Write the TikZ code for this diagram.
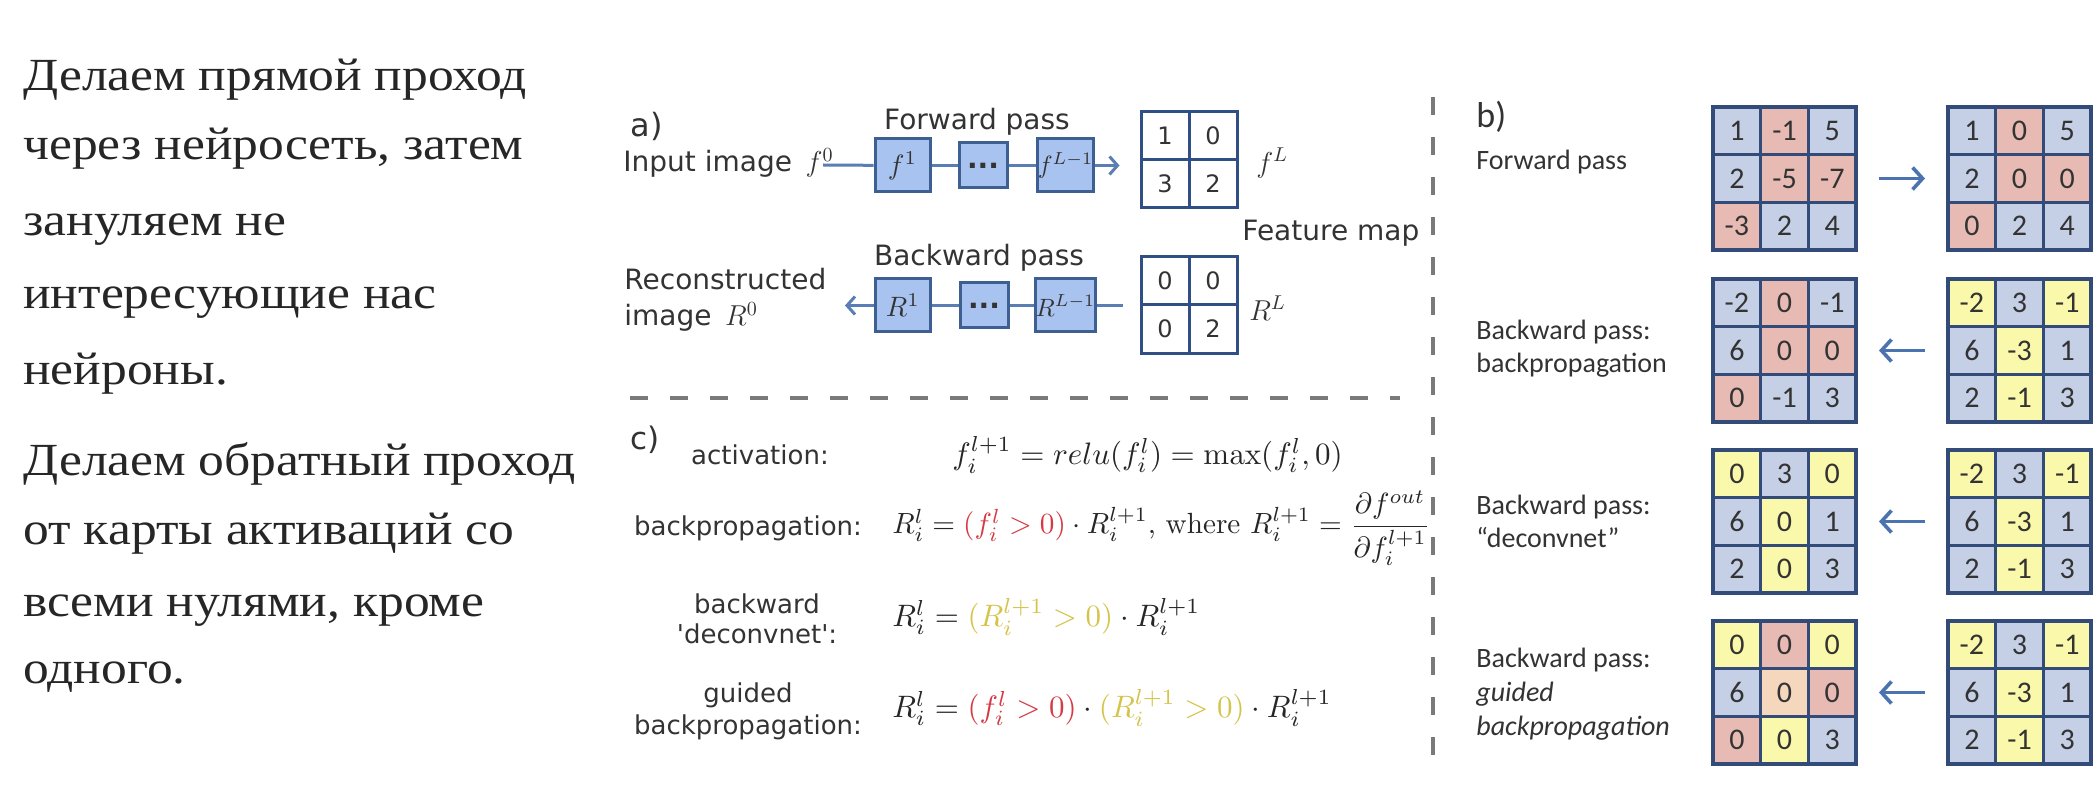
\documentclass[tikz,border=0pt]{standalone}
\usepackage{amsmath}
\usepackage{graphicx}
\usepackage[no-math]{fontspec}
\usetikzlibrary{arrows.meta}

\newfontfamily\ruserif{Liberation Serif}[FakeStretch=1.12]
\newfontfamily\dvsans{DejaVu Sans}
\newfontfamily\calib{Carlito}

\definecolor{txt}{HTML}{262626}
\definecolor{labtxt}{HTML}{333333}
\definecolor{boxfill}{HTML}{A8C3EF}
\definecolor{boxline}{HTML}{3D5F92}
\definecolor{linkline}{HTML}{5A7DB3}
\definecolor{mapline}{HTML}{2F4F85}
\definecolor{gridline}{HTML}{324B78}
\definecolor{cB}{HTML}{C5D0E6}
\definecolor{cP}{HTML}{E7BAB4}
\definecolor{cY}{HTML}{FAF8AA}
\definecolor{cO}{HTML}{F5D7BE}
\definecolor{barrow}{HTML}{4B73AF}
\definecolor{sepgray}{HTML}{7A7A7A}
\definecolor{eqred}{HTML}{D63A44}
\definecolor{eqyellow}{HTML}{D4C44A}

\newcommand\eqsize[2][1.55]{\scalebox{#1}{#2}}

\tikzset{
  rutext/.style={anchor=base west, inner sep=0pt, text=txt,
    font=\ruserif\fontsize{23}{28}\selectfont},
  alab/.style={inner sep=0pt, text=labtxt, font=\dvsans\fontsize{14}{18}\selectfont},
  clab/.style={inner sep=0pt, text=labtxt, align=center, font=\dvsans\fontsize{13}{15}\selectfont},
  blab/.style={anchor=west, inner sep=0pt, text=labtxt, align=left, font=\calib\fontsize{14}{16.5}\selectfont},
  eqn/.style={anchor=west, inner sep=0pt, text=txt},
  layerbox/.style={draw=boxline, fill=boxfill, line width=1.5pt, inner sep=0pt,
    minimum width=27.5pt, minimum height=26.5pt, text=labtxt},
  dotbox/.style={layerbox, minimum width=24pt, minimum height=22.5pt},
  link/.style={draw=linkline, line width=1.5pt},
  mapcell/.style={draw=mapline, line width=1.5pt, fill=white, inner sep=0pt,
    minimum width=24pt, minimum height=24pt, text=labtxt, font=\dvsans\fontsize{12}{12}\selectfont},
  bcell/.style={draw=gridline, line width=1.6pt, inner sep=0pt, outer sep=0pt,
    minimum width=23.85pt, minimum height=23.85pt, text=labtxt,
    font=\calib\fontsize{15}{15}\selectfont},
  bframe/.style={draw=gridline, line width=2.2pt, inner sep=0pt, outer sep=0pt,
    minimum width=71.5pt, minimum height=71.5pt},
  passarrow/.style={draw=barrow, line width=1.8pt, -{Straight Barb[length=5pt,width=11pt]},
    shorten <=11.5pt, shorten >=11.5pt},
  sepline/.style={draw=sepgray, line width=1.8pt, dash pattern=on 9pt off 11pt},
}

% 3x3 grid of coloured cells: name, left x, top y, colour/value list
\newcommand\cellgrid[4]{%
  \foreach \cc/\vv [count=\k from 0] in {#4}{
    \pgfmathtruncatemacro\gcol{mod(\k,3)}
    \pgfmathtruncatemacro\grow{\k/3}
    \node[bcell, fill=\cc] (#1-\k) at ({#2+23.85+47.7*\gcol},{#3+23.85+47.7*\grow}) {\vv};
  }
  \node[bframe] (#1) at ({#2+71.5},{#3+71.5}) {};
}

\begin{document}
\begin{tikzpicture}[x=0.5pt, y=-0.5pt]
  \useasboundingbox[fill=white] (0,0) rectangle (2099,786);

  % ---- explanatory text ----
  \node[rutext] (l1) at (23,91)  {Делаем прямой проход};
  \node[rutext] (l2) at (23,160) {через нейросеть, затем};
  \node[rutext] (l3) at (23,236) {зануляем не};
  \node[rutext] (l4) at (23,308) {интересующие нас};
  \node[rutext] (l5) at (23,384) {нейроны.};
  \node[rutext] (l6) at (23,475) {Делаем обратный проход};
  \node[rutext] (l7) at (23,544) {от карты активаций со};
  \node[rutext] (l8) at (23,616) {всеми нулями, кроме};
  \node[rutext] (l9) at (23,683) {одного.};

  % ---- separators ----
  \draw[sepline] (1433,97) -- (1433,765);
  \draw[sepline] (630,398) -- (1400,398);

  % ---- a) forward / backward chain ----
  \node[alab, anchor=west, font=\dvsans\fontsize{16}{16}\selectfont] (alabel) at (630,126) {a)};
  \node[alab] (fwdtitle) at (977,122) {Forward pass};
  \node[alab, anchor=west] (inimg) at (623,163) {Input image \,$f^{0}$};
  \coordinate (fstart) at (823,165);
  \node[layerbox] (f1) at (902.5,165.5) {\scalebox{1.4}{$f^{1}$}};
  \node[dotbox] (fd) at (983,165.5) {\dvsans\bfseries\fontsize{14}{14}\selectfont ...};
  \node[layerbox] (fL) at (1065.5,165.5) {\scalebox{1.25}{$f^{L-1}$}};

  \node[mapcell] (m00) at (1165,136) {1};
  \node[mapcell] (m01) at (1213,136) {0};
  \node[mapcell] (m10) at (1165,184) {3};
  \node[mapcell] (m11) at (1213,184) {2};
  \node[alab, anchor=west] (fLlab) at (1256,163) {$f^{L}$};

  \draw[link] (fstart) -- (f1);
  \draw[link] (f1) -- (fd);
  \draw[link] (fd) -- (fL);
  \draw[link, -{Straight Barb[length=4pt,width=9pt]}, shorten >=10pt] (fL.east) -- (fL.east -| m00.west);

  \node[alab, anchor=west] (fmap) at (1242,233) {Feature map};

  \node[alab] (bwdtitle) at (979,258) {Backward pass};
  \node[alab, anchor=west, align=left] (recimg) at (624,300) {Reconstructed\\image \,$R^{0}$};
  \coordinate (rend) at (845,305.5);
  \node[layerbox] (r1) at (903,305.5) {\scalebox{1.4}{$R^{1}$}};
  \node[dotbox] (rd) at (984,305.5) {\dvsans\bfseries\fontsize{14}{14}\selectfont ...};
  \node[layerbox] (rL) at (1065.5,305.5) {\scalebox{1.25}{$R^{L-1}$}};

  \node[mapcell] (n00) at (1165,281) {0};
  \node[mapcell] (n01) at (1213,281) {0};
  \node[mapcell] (n10) at (1165,329) {0};
  \node[mapcell] (n11) at (1213,329) {2};
  \node[alab, anchor=west] (RLlab) at (1249,308) {$R^{L}$};

  \draw[link, shorten <=8.5pt] (rL.east -| n00.west) -- (rL.east);
  \draw[link] (rL) -- (rd);
  \draw[link] (rd) -- (r1);
  \draw[link, -{Straight Barb[length=4pt,width=9pt]}] (r1.west) -- (rend);

  % ---- c) rules ----
  \node[alab, anchor=west, font=\dvsans\fontsize{15.5}{16}\selectfont] (clabel) at (630,440) {c)};
  \node[clab] (act) at (760,455) {activation:};
  \node[clab] (bp) at (748,528) {backpropagation:};
  \node[clab] (dc) at (757,619) {backward\\\textquotesingle deconvnet\textquotesingle:};
  \node[clab, font=\dvsans\fontsize{13}{16}\selectfont] (gb) at (748,711) {guided\\backpropagation:};

  \node[eqn] (eq1) at (952,455) {\eqsize{$f_i^{l+1} = relu(f_i^l) = \max(f_i^l,0)$}};
  \node[eqn] (eq2) at (892,528) {\eqsize[1.46]{$R_i^l = {\color{eqred}(f_i^l > 0)}\cdot R_i^{l+1}$, where
    $R_i^{l+1} = \dfrac{\partial f^{out}}{\partial f_i^{l+1}}$}};
  \node[eqn] (eq3) at (892,617) {\eqsize{$R_i^l = {\color{eqyellow}(R_i^{l+1} > 0)}\cdot R_i^{l+1}$}};
  \node[eqn] (eq4) at (892,708) {\eqsize{$R_i^l = {\color{eqred}(f_i^l > 0)}\cdot{\color{eqyellow}(R_i^{l+1} > 0)}\cdot R_i^{l+1}$}};

  % ---- b) worked example ----
  \node[blab, font=\calib\fontsize{18}{18}\selectfont] (blabel) at (1476,117) {b)};
  \node[blab] (bfwd) at (1476,162) {Forward pass};
  \node[blab] (bbp) at (1476,349) {Backward pass:\\backpropagation};
  \node[blab] (bdc) at (1476,521) {Backward pass:\\“deconvnet”};
  \node[blab, font=\calib\fontsize{14}{17}\selectfont] (bgb) at (1476,694)
    {Backward pass:\\\textit{guided}\\\textit{backpropagation}};

  \cellgrid{g1L}{1713}{107}{cB/1,cP/-1,cB/5,cB/2,cP/-5,cP/-7,cP/-3,cB/2,cB/4}
  \cellgrid{g1R}{1948}{107}{cB/1,cP/0,cB/5,cB/2,cP/0,cP/0,cP/0,cB/2,cB/4}
  \cellgrid{g2L}{1713}{279}{cB/-2,cP/0,cB/-1,cB/6,cP/0,cP/0,cP/0,cB/-1,cB/3}
  \cellgrid{g2R}{1948}{279}{cY/-2,cB/3,cY/-1,cB/6,cY/-3,cB/1,cB/2,cY/-1,cB/3}
  \cellgrid{g3L}{1713}{450}{cY/0,cB/3,cY/0,cB/6,cY/0,cB/1,cB/2,cY/0,cB/3}
  \cellgrid{g3R}{1948}{450}{cY/-2,cB/3,cY/-1,cB/6,cY/-3,cB/1,cB/2,cY/-1,cB/3}
  \cellgrid{g4L}{1713}{621}{cY/0,cP/0,cY/0,cB/6,cO/0,cP/0,cP/0,cY/0,cB/3}
  \cellgrid{g4R}{1948}{621}{cY/-2,cB/3,cY/-1,cB/6,cY/-3,cB/1,cB/2,cY/-1,cB/3}

  \draw[passarrow] (g1L.east) -- (g1R.west);
  \draw[passarrow] (g2R.west) -- (g2L.east);
  \draw[passarrow] (g3R.west) -- (g3L.east);
  \draw[passarrow] (g4R.west) -- (g4L.east);
\end{tikzpicture}
\end{document}
